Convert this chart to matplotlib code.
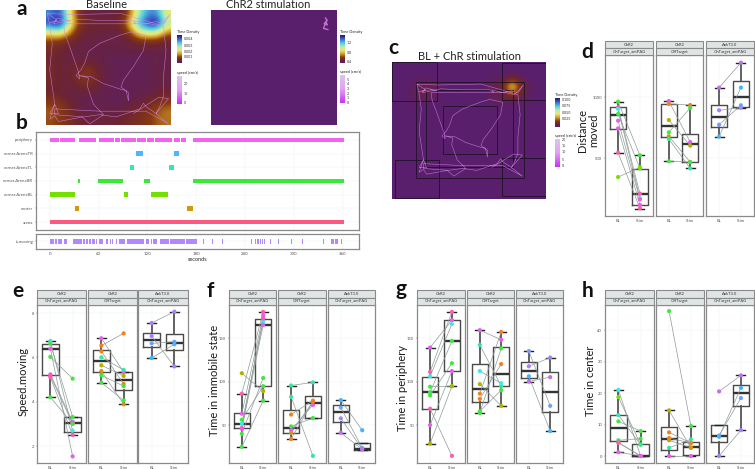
import numpy as np
import matplotlib
matplotlib.use("Agg")
import matplotlib.pyplot as plt
from matplotlib.colors import LinearSegmentedColormap
from matplotlib.patches import Rectangle

W, H = 755, 469
plt.rcParams['font.family'] = ['Lato', 'DejaVu Sans']

# mouse colours
G = '#3fe83f'; LG = '#78e000'; OL = '#b4b000'; MG = '#e85cf0'; PK = '#ff5cac'
CY = '#40e8e8'; SP = '#30e8a0'; OR = '#f08020'; GO = '#cc9a10'; BU = '#6fa0ff'
SK = '#40b4ff'; PU = '#a87fff'; VI = '#c070f0'

# --- panel a/c: heatmaps (time density x 1e-4) ---
density_bl = [
    [36, 42, 24, 8, 4, 3, 3, 3, 4, 12, 28, 36, 36, 20],
    [42, 46, 28, 10, 5, 5, 5, 5, 6, 20, 36, 44, 46, 26],
    [22, 26, 16, 6, 4, 4, 3, 3, 4, 10, 22, 26, 24, 13],
    [8, 7, 5, 4, 3, 3, 3, 3, 3, 4, 6, 6, 6, 4],
    [6, 5, 4, 3, 3, 3, 3, 3, 3, 3, 3, 3, 3, 3],
    [5, 4, 3, 3, 3, 3, 2, 2, 2, 2, 2, 2, 2, 3],
    [6, 4, 4, 5, 7, 5, 3, 2, 2, 2, 2, 2, 3, 3],
    [6, 4, 4, 6, 9, 6, 3, 2, 2, 2, 2, 2, 3, 3],
    [5, 4, 4, 5, 6, 5, 3, 2, 2, 2, 2, 2, 3, 3],
    [5, 4, 3, 3, 3, 3, 2, 2, 2, 2, 2, 3, 4, 5],
    [9, 8, 5, 3, 2, 2, 2, 2, 2, 3, 4, 5, 7, 9],
    [11, 9, 6, 4, 3, 3, 3, 3, 3, 5, 6, 8, 11, 13],
    [10, 9, 7, 5, 4, 4, 4, 4, 5, 6, 7, 8, 11, 12],
]
density_all = [
    [0, 0, 0, 0, 0, 0, 0, 0, 0, 0, 0, 0, 0, 0, 0, 0],
    [0, 0, 0, 0, 0, 0, 0, 0, 0, 0, 0, 0, 1, 0, 0, 0],
    [0, 0, 2, 4, 2, 0, 0, 0, 0, 0, 3, 4, 27, 4, 1, 0],
    [0, 0, 2, 3, 1, 0, 0, 0, 0, 0, 2, 3, 4, 3, 0, 0],
    [0, 0, 0, 0, 0, 0, 0, 0, 0, 0, 0, 0, 0, 0, 0, 0],
    [0, 0, 0, 0, 0, 0, 0, 0, 0, 0, 0, 0, 0, 0, 0, 0],
    [0, 0, 0, 0, 0, 0, 0, 0, 0, 0, 0, 0, 0, 0, 0, 0],
    [0, 0, 0, 0, 0, 0, 0, 0, 0, 0, 0, 0, 0, 0, 0, 0],
    [0, 0, 0, 0, 0, 0, 0, 0, 0, 0, 0, 0, 0, 0, 0, 0],
    [0, 0, 0, 0, 0, 0, 0, 0, 0, 0, 0, 0, 0, 0, 0, 0],
    [0, 0, 0, 0, 0, 0, 0, 0, 0, 0, 0, 0, 0, 0, 0, 0],
    [0, 0, 0, 0, 0, 0, 0, 0, 0, 0, 0, 0, 0, 0, 0, 0],
    [0, 0, 0, 0, 0, 0, 0, 0, 0, 0, 0, 0, 0, 0, 0, 0],
    [0, 0, 0, 0, 0, 0, 0, 0, 0, 0, 0, 0, 0, 0, 0, 0],
]

# track of the animal, fraction of arena width/height
track_x = [.01, .09, .03, .14, .20, .09, .06, .23, .43, .68, .72, .70, .80, .88, .94, .99, .91, .83,
           .68, .43, .23, .14, .15, .19, .26, .27, .24, .28, .31, .34, .43, .59, .68, .80, .78, .70,
           .62, .60, .66, .66, .64, .60, .46, .36, .26, .34, .33, .38, .46, .35, .29, .10, .07, .03,
           .07, .10, .03, .07, .03, .05, .03, .01, .20, .60, .94, .96, .94, .94, .91, .88, .80, .78,
           .75, .56, .43, .30, .07, .07, .43, .80, .98, .88, .98, .90, .80, .70]
track_y = [.03, .09, .11, .09, .10, .07, .12, .08, .09, .09, .12, .09, .12, .10, .12, .04, .14, .12,
           .12, .12, .12, .12, .20, .32, .54, .60, .57, .52, .46, .36, .29, .22, .19, .22, .35, .49,
           .61, .67, .72, .79, .70, .69, .64, .58, .57, .59, .66, .82, .91, .99, .93, .97, .92, .95,
           .82, .90, .90, .82, .52, .29, .13, .03, .04, .03, .14, .35, .58, .75, .84, .90, .84, .81,
           .86, .93, .91, .93, .91, .86, .88, .88, .99, .90, .77, .76, .83, .90]
stim_track_x = [.915, .93, .905, .93, .92, .90, .935]
stim_track_y = [.07, .09, .12, .13, .10, .16, .17]

# --- panel b: behaviour segments, start/stop in seconds ---
zone_names = ['periphery', 'corner.ArenaTR', 'corner.ArenaTL', 'corner.ArenaBR',
              'corner.ArenaBL', 'center', 'arena']
zone_colors = ['#f261f0', '#4ab8ff', '#35e8b0', '#38ea38', '#74e000', '#d09a10', '#fb5a80']
zone_segments = [
    [(0, 11.5), (12.3, 18.4), (19, 30.7), (35.7, 56.6), (60.3, 78.3), (80.3, 86), (87, 92.2),
     (93, 105.7), (107, 118), (119, 128), (129, 150.4), (153, 160), (161.5, 167.6), (176, 362)],
    [(106, 115), (152.5, 158.6), (159.4, 160)],
    [(98.4, 104), (146.3, 152.5)],
    [(34.8, 37.3), (59.8, 89.8), (115.6, 123.4), (175.8, 362)],
    [(0, 30.7), (91, 96.3), (124.2, 145)],
    [(31, 35.7), (168.9, 175.4)],
    [(0, 362)],
]
moving_segments = [(0, 5), (6.5, 9), (10.5, 15.5), (18, 21), (28, 40), (41, 43.5), (45, 47), (48.5, 50),
                   (52, 55), (56.5, 58), (60, 65), (66, 67), (69, 71), (73.5, 75), (76.5, 78), (81, 83),
                   (85, 93), (95, 116), (118, 122), (124.5, 126), (127, 132), (135, 141), (142, 147),
                   (148, 166), (167, 178), (179, 181), (188, 189), (199, 200), (205, 206), (211, 212.5),
                   (247, 248), (252, 253), (255, 256.5), (258, 259), (261, 262), (263, 264), (271, 272),
                   (281, 282), (297, 298), (310, 311), (323, 324), (336, 337), (346, 349), (351, 354),
                   (358, 359)]
seconds_ticks = [0, 60, 120, 180, 240, 300, 360]

# --- box panels, facet order: ChR2 OnTarget, ChR2 OffTarget, AnkT3.0 OnTarget ---
strip_top = ['ChR2', 'ChR2', 'AnkT3.0']
strip_bot = ['OnTarget_antPAG', 'OffTarget', 'OnTarget_antPAG']
groups = ['BL', 'Stim']

# (low whisker, q1, median, q3, high whisker) for BL and Stim
d_bl = [[962, 915, 902, 861, 806, 743, 544, 344], [967, 943, 811, 710, 678, 656, 473], [1077, 891, 773, 675]]
d_stim = [[522, 208, 170, 415, 161, 115, 88, 423], [631, 934, 601, 910, 467, 415, 467], [1281, 913, 932, 1077]]
d_colors = [[G, PK, CY, G, MG, MG, PK, LG], [MG, OR, OL, G, GO, SP, G], [VI, PU, BU, SK]]
d_box = [[(544, 740, 855, 915, 962), (85, 112, 208, 413, 522)],
         [(473, 672, 762, 943, 967), (415, 465, 612, 699, 934)],
         [(675, 751, 833, 937, 1077), (913, 918, 1003, 1128, 1281)]]

e_bl = [[6.74, 6.62, 6.39, 6.02, 5.23, 5.17, 5.1, 4.2], [6.86, 6.53, 6.27, 6.0, 5.64, 5.38, 5.19, 4.86], [7.55, 6.96, 6.63, 5.97]]
e_stim = [[2.69, 3.31, 1.53, 5.04, 3.1, 3.0, 2.5, 3.0], [5.34, 7.08, 4.8, 5.43, 5.16, 3.88, 4.7, 4.06], [8.06, 5.59, 6.7, 6.59]]
e_colors = [[CY, G, MG, G, MG, PK, PK, G], [MG, OR, OR, SP, OL, GO, G, G], [PU, PU, BU, SK]]
e_box = [[(4.2, 5.22, 6.39, 6.6, 6.74), (2.5, 2.65, 3.04, 3.31, 3.31)],
         [(4.86, 5.32, 5.82, 6.33, 6.86), (3.88, 4.54, 4.96, 5.35, 5.35)],
         [(5.97, 6.47, 6.8, 7.11, 7.55), (5.59, 6.33, 6.65, 7.04, 8.06)]]

f_bl = [[109.5, 86, 63, 56, 51.5, 46.6, 45.4, 40, 25], [95.4, 82.4, 62, 48.4, 44, 41, 34], [78.6, 70, 57.6, 41]]
f_stim = [[89, 180, 176, 94.6, 169, 172.5, 165, 104, 78], [99, 14.5, 78, 58, 73, 77, 77], [44, 23.7, 22.5, 22]]
f_colors = [[OL, PK, MG, G, CY, PK, MG, G, G], [SP, SP, OR, G, MG, GO, OR], [SK, BU, PU, VI]]
f_box = [[(25, 46, 51.5, 63.4, 86), (78, 94.6, 165, 172, 180)],
         [(34, 41, 46.6, 67, 95.4), (58, 58, 75.6, 83, 99)],
         [(41, 54, 64.5, 72.5, 78.6), (21, 21, 22, 29, 29)]]

g_bl = [[139, 111, 106, 94, 87.4, 84, 68.7, 50, 28.6], [159, 142, 112, 97, 86, 80, 65.6, 64], [135, 117.5, 106, 100]]
g_stim = [[170.6, 180, 166, 94.6, 146.6, 121, 14.5, 112, 94.6], [148, 95, 98, 72, 157, 120, 90, 138], [72, 127.5, 43, 105]]
g_colors = [[MG, PK, CY, G, G, G, PK, MG, OL], [MG, SP, CY, OL, OR, OR, G, G], [BU, PU, SK, VI]]
g_box = [[(28.6, 68.3, 87.4, 105.7, 139), (94.6, 112, 146.6, 170.6, 180)],
         [(64, 76.7, 91.6, 120, 159), (72, 94.6, 109, 140, 157)],
         [(100, 104, 112, 122, 135), (43, 65, 88.5, 111, 127.5)]]

h_bl = [[21, 18.7, 13, 11, 5, 4.3, 4.2, 1.2], [46, 14.5, 7.5, 5.7, 5, 2.6, 0], [20.5, 6.5, 6.1, 0]]
h_stim = [[0, 3.6, 3.6, 7.9, 5.5, 0, 0, 0], [9.5, 2.6, 4.1, 4.1, 2.6, 5.3, 0], [25.6, 18.4, 21.6, 8.2]]
h_colors = [[CY, LG, SP, G, G, MG, PK, MG], [G, OL, OR, OR, GO, SP, MG], [VI, BU, SK, PU]]
h_box = [[(1.2, 4.8, 8.9, 13, 21), (0, 0, 0.1, 3.7, 7.9)],
         [(0, 1.9, 5.5, 9.2, 14.5), (0, 0.3, 2.8, 4.4, 9.5)],
         [(0, 4.4, 6.3, 10, 10), (8.2, 15.9, 20, 22.5, 25.6)]]

density_cmap = LinearSegmentedColormap.from_list('density', [
    (0, '#5a1f6c'), (.1, '#6e2530'), (.2, '#8a3a10'), (.32, '#d09a28'), (.45, '#ece870'),
    (.58, '#b8ecb0'), (.72, '#50cce0'), (.88, '#3a58c8'), (1, '#2a1470')])
speed_cmap = LinearSegmentedColormap.from_list('speed', ['#c832f5', '#e4a0f5', '#d8c8e8'])


def px_axes(x0, y0, x1, y1):
    return fig.add_axes([x0 / W, 1 - y1 / H, (x1 - x0) / W, (y1 - y0) / H])


def px_text(x, y, s, **kw):
    kw.setdefault('ha', 'center')
    kw.setdefault('va', 'center')
    fig.text(x / W, 1 - y / H, s, **kw)


def colorbar(x0, y0, x1, y1, cmap, title, labels, label_y):
    ax = px_axes(x0, y0, x1, y1)
    ax.imshow(np.linspace(1, 0, 64).reshape(-1, 1), cmap=cmap, aspect='auto')
    ax.axis('off')
    px_text(x0, y0 - 3, title, ha='left', fontsize=2.8, color='#222222')
    for lab, yy in zip(labels, label_y):
        px_text(x1 + 2, yy, lab, ha='left', fontsize=2.6, color='#333333')


def arena(x0, y0, x1, y1, grid, vmax, tx, ty, lw=0.4):
    ax = px_axes(x0, y0, x1, y1)
    ax.imshow(grid, cmap=density_cmap, vmin=0, vmax=vmax, extent=(0, 1, 1, 0),
              interpolation='bicubic', aspect='auto')
    ax.plot(tx, ty, color='#d884ec', lw=lw, alpha=0.8, solid_joinstyle='round')
    ax.set_xlim(0, 1)
    ax.set_ylim(1, 0)
    ax.axis('off')
    return ax


def box_panel(xs, ticks, tick_px, bl, stim, colors, boxes, ylabel, label_x, label_y):
    top, mid, bottom = xs['strip'], xs['mid'], xs['bottom']
    # ylim out of two known tick positions
    scale = (ticks[0] - ticks[-1]) / (tick_px[-1] - tick_px[0])
    ylim = (ticks[0] - (bottom - tick_px[0]) * scale, ticks[0] + (tick_px[0] - mid) * scale)
    for i, (x0, x1) in enumerate(xs['facets']):
        ax = px_axes(x0, mid, x1, bottom)
        ax.set_xlim(0.4, 2.6)
        ax.set_ylim(*ylim)
        ax.grid(True, color='#eef2f2', lw=0.35)
        ax.set_axisbelow(True)
        for s in ax.spines.values():
            s.set_color('#8a8a8a')
            s.set_linewidth(0.9)
        stats = [dict(whislo=b[0], q1=b[1], med=b[2], q3=b[3], whishi=b[4]) for b in boxes[i]]
        ax.bxp(stats, positions=[1, 2], widths=0.75, showfliers=False, capwidths=0.42,
               boxprops=dict(color='#4a4a4a', lw=1.0),
               medianprops=dict(color='#333333', lw=1.7),
               whiskerprops=dict(color='#555555', lw=1.3),
               capprops=dict(color='#222222', lw=1.0))
        for a, b in zip(bl[i], stim[i]):
            ax.plot([1, 2], [a, b], color='#8f9a9a', lw=0.5, zorder=4)
        ax.scatter([1] * len(bl[i]), bl[i], c=colors[i], s=9, lw=0, zorder=5)
        ax.scatter([2] * len(stim[i]), stim[i], c=colors[i], s=9, lw=0, zorder=5)
        ax.set_xticks([1, 2])
        ax.set_xticklabels(groups)
        ax.set_yticks(ticks)
        ax.tick_params(labelsize=3, length=1, width=0.3, pad=1, colors='#555555', labelleft=(i == 0))
        if i > 0:
            ax.tick_params(axis='y', length=0)
        # facet strips
        for y0, y1, lab in [(top, (top + mid) / 2, strip_top[i]), ((top + mid) / 2, mid, strip_bot[i])]:
            fig.patches.append(Rectangle((x0 / W, 1 - y1 / H), (x1 - x0) / W, (y1 - y0) / H,
                                         transform=fig.transFigure, facecolor='#dfe5e5',
                                         edgecolor='#8a8a8a', lw=0.8))
            px_text((x0 + x1) / 2, (y0 + y1) / 2, lab, fontsize=3, color='#333333')
    px_text(label_x, label_y, ylabel, rotation=90, fontsize=8, color='#1a1a1a', linespacing=1.05)


fig = plt.figure(figsize=(W / 100, H / 100), dpi=100)

# --- a ---
arena(46, 10, 171, 125, density_bl, 45, track_x, track_y)
colorbar(177, 35, 182, 63, density_cmap, 'Time Density', ['0.004', '0.003', '0.002', '0.001'], [39, 46, 52, 57])
colorbar(177, 76, 182, 104, speed_cmap, 'speed (cm/s)', ['20', '10', '0'], [84, 94, 103])
arena(211, 10, 336, 125, np.zeros((2, 2)), 45, stim_track_x, stim_track_y, lw=1)
colorbar(340, 35, 345, 63, density_cmap, 'Time Density', ['1.2', '0.8', '0.4'], [43, 53, 62])
colorbar(340, 75, 345, 103, speed_cmap, 'speed (cm/s)', ['5', '4', '3', '2', '1', '0'], [80, 84, 89, 94, 98, 103])
px_text(106, 5, 'Baseline', fontsize=8, color='#222222')
px_text(268, 5, 'ChR2 stimulation', fontsize=8, color='#222222')

# --- b ---
ax_b = px_axes(36, 132, 359, 230)
for row, (segs, col) in enumerate(zip(zone_segments, zone_colors)):
    ax_b.broken_barh([(s, e - s) for s, e in segs], (row - 0.16, 0.32), facecolors=col, lw=0, zorder=3)
ax_b.set_ylim(6.585, -0.585)
ax_b.set_yticks(range(len(zone_names)))
ax_b.set_yticklabels(zone_names)
ax_m = px_axes(36, 234, 359, 249)
ax_m.broken_barh([(s, e - s) for s, e in moving_segments], (-0.17, 0.34), facecolors='#b388ff', lw=0, zorder=3)
ax_m.set_ylim(-0.55, 0.55)
ax_m.set_yticks([0])
ax_m.set_yticklabels(['is.moving'])
ax_m.set_xlabel('seconds', fontsize=4, labelpad=1, color='#222222')
for ax in (ax_b, ax_m):
    ax.set_xlim(-17, 380)
    ax.set_xticks(seconds_ticks)
    ax.grid(True, color='#eef2f2', lw=0.35)
    ax.set_axisbelow(True)
    ax.tick_params(labelsize=3.2, length=1, width=0.3, pad=1, colors='#555555')
    for s in ax.spines.values():
        s.set_color('#8a8a8a')
        s.set_linewidth(0.9)
ax_b.tick_params(axis='x', length=0, labelbottom=False)

# --- c ---
ax_c = arena(392, 62, 546, 199, density_all, 45, [.155 + .705 * v for v in track_x], [.14 + .70 * v for v in track_y], lw=0.4)
zones_c = [(0, 0, .29, .285), (.715, .007, .283, .273), (.02, .715, .282, .278), (.717, .70, .28, .278),
           (.156, .144, .703, .70), (.223, .207, .565, .56), (.33, .324, .354, .349)]
for zx, zy, zw, zh in zones_c:
    ax_c.add_patch(Rectangle((zx, zy), zw, zh, fill=False, edgecolor='#1a1020', lw=0.55))
colorbar(555, 98, 560, 127, density_cmap, 'Time Density', ['0.100', '0.075', '0.050', '0.025'], [100, 106, 113, 119])
colorbar(555, 139, 560, 167, speed_cmap, 'speed (cm/s)', ['20', '15', '10', '5', '0'], [140, 146, 152, 160, 166])
px_text(469, 56.5, 'BL + ChR stimulation', fontsize=8, color='#222222')

# --- d-h ---
box_panel(dict(strip=41, mid=55, bottom=216, facets=[(605, 653), (656, 703), (706, 754)]),
          [1000, 500], [97, 158], d_bl, d_stim, d_colors, d_box, 'Distance\nmoved', 588, 130)
box_panel(dict(strip=290, mid=305, bottom=463, facets=[(37, 86), (88, 137), (138, 188)]),
          [8, 6, 4, 2], [313, 357.5, 402, 446], e_bl, e_stim, e_colors, e_box, 'Speed.moving', 23, 381)
box_panel(dict(strip=290, mid=305, bottom=463, facets=[(229, 276), (278, 326), (328, 375)]),
          [150, 100, 50], [338, 381.5, 425], f_bl, f_stim, f_colors, f_box, 'Time in immobile state', 214, 380)
box_panel(dict(strip=290, mid=305, bottom=463, facets=[(417, 465), (467, 514), (516, 563)]),
          [150, 100, 50], [338, 381.5, 425], g_bl, g_stim, g_colors, g_box, 'Time in periphery', 403, 388)
box_panel(dict(strip=290, mid=305, bottom=463, facets=[(605, 654), (656, 704), (706, 754)]),
          [40, 30, 20, 10, 0], [330, 361.5, 393, 424.5, 456], h_bl, h_stim, h_colors, h_box, 'Time in center', 590, 381)

# panel letters
letters = ['a', 'b', 'c', 'd', 'e', 'f', 'g', 'h']
letter_x = [22, 22, 393, 587, 18, 210, 401, 588]
letter_y = [15, 129, 54, 58, 297, 297, 295, 297]
for s, lx, ly in zip(letters, letter_x, letter_y):
    px_text(lx, ly, s, fontsize=15, fontweight='bold', va='baseline', color='#111111')

fig.savefig('out.png', dpi=100)
